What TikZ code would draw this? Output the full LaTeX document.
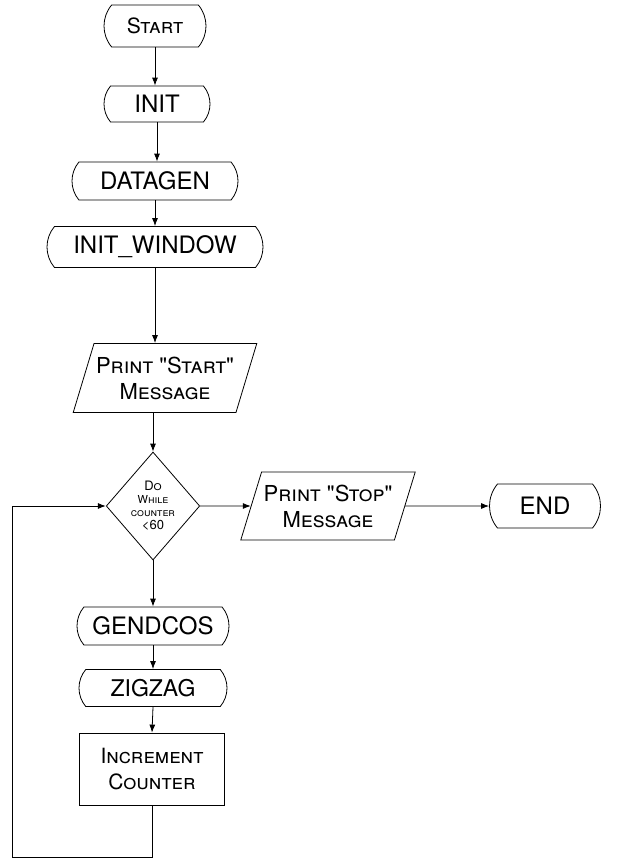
\documentclass[tikz,border=0pt]{standalone}
\usepackage{fontspec}
\setmainfont{TeX Gyre Heros}
\usepackage{tikz}
\usetikzlibrary{positioning,shapes.geometric,shapes.misc,arrows.meta,calc}

\begin{document}
\begin{tikzpicture}[
  x=0.5pt, y=-0.5pt,
  every node/.style={font=\fontsize{12}{14}\selectfont, inner sep=1pt},
  term/.style={draw, thin, rounded rectangle, rounded rectangle arc length=80,
               minimum height=19pt, align=center},
  io/.style  ={draw, thin, trapezium, trapezium stretches=true,
               trapezium left angle=66, trapezium right angle=114,
               align=center, font=\fontsize{11}{13}\selectfont},
  dec/.style ={draw, thin, diamond, inner sep=0pt, minimum width=45pt,
               minimum height=54pt, align=center,
               font=\fontsize{5.5}{6.5}\selectfont},
  proc/.style={draw, thin, minimum width=72.5pt, minimum height=36pt,
               align=center, font=\fontsize{10.5}{13}\selectfont},
  arr/.style ={-{Latex[length=4pt,width=3pt]}, thin}
]
\useasboundingbox (0,0) rectangle (626,867);

%% --- Set-up chain --------------------------------------------
\node[term, minimum width=53pt, minimum height=21pt,
      font=\fontsize{10.5}{12}\selectfont] (start) at (155,26) {\textsc{Start}};
\node[term, minimum width=55pt, minimum height=18pt] (init) at (157,104) {INIT};
\node[term, minimum width=85pt] (datagen) at (155,181) {DATAGEN};
\node[term, minimum width=110pt, minimum height=20.5pt] (initwin) at (155,247)
     {INIT\_WINDOW};

\node[io, minimum width=77.5pt, minimum height=34.5pt] (pstart) at (165,378)
     {\textsc{Print \textquotedbl Start\textquotedbl}\\\textsc{Message}};

%% --- Loop test -----------------------------------------------
\node[dec] (dowhile) at (153,506)
     {{\fontsize{6.5}{7.5}\selectfont\textsc{Do}}\\\textsc{While}\\\textsc{counter}\\{\fontsize{6.5}{7.5}\selectfont <60}};

\node[io, minimum width=72.5pt, minimum height=34pt] (pstop) at (328,506)
     {\textsc{Print \textquotedbl Stop\textquotedbl}\\\textsc{Message}};
\node[term, minimum width=57.5pt, minimum height=22pt] (finish) at (545,506) {END};

%% --- Loop body -----------------------------------------------
\node[term, minimum width=78pt] (gendcos) at (153,626) {GENDCOS};
\node[term, minimum width=76pt, minimum height=18.5pt,
      font=\fontsize{11.5}{13}\selectfont] (zigzag) at (153,688) {ZIGZAG};
\node[proc] (incr) at (152,769) {\textsc{Increment}\\\textsc{Counter}};

\coordinate (lowR) at (152,857);
\coordinate (lowL) at (12,857);
\coordinate (upL)  at (12,506);

%% --- Connectors ----------------------------------------------
\draw[arr] (start.south)   -- (start.south |- init.north);
\draw[arr] (init.south)    -- (init.south |- datagen.north);
\draw[arr] (datagen.south) -- (datagen.south |- initwin.north);
\draw[arr] (initwin.south) -- (initwin.south |- pstart.north);
\draw[arr] (dowhile.north |- pstart.south) -- (dowhile.north);
\draw[arr] (dowhile.east)  -- (pstop.west);
\draw[arr] (pstop.east)    -- (finish.west);
\draw[arr] (dowhile.south) -- (gendcos.north);
\draw[arr] (gendcos.south) -- (zigzag.north);
\draw[arr] (zigzag.south)  -- (incr.north);
\draw[arr] (incr.south) -- (lowR) -- (lowL) -- (upL) -- (dowhile.west);

\end{tikzpicture}
\end{document}
